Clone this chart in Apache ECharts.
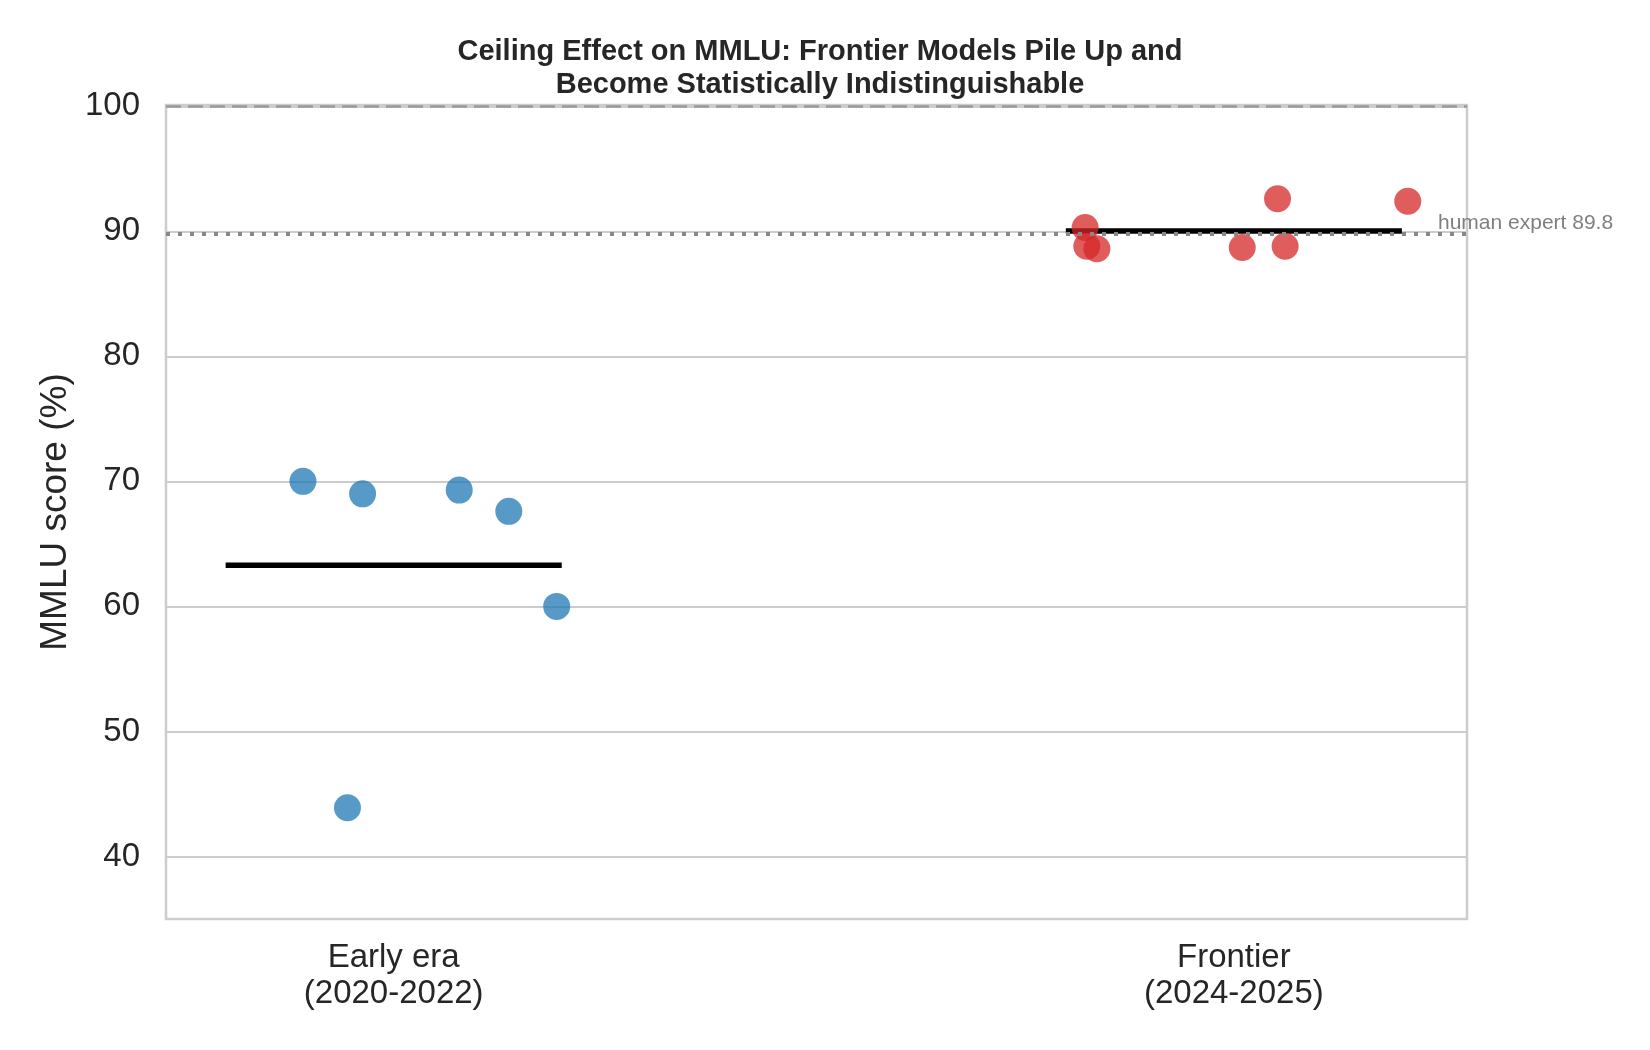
<!DOCTYPE html>
<html>
<head>
<meta charset="utf-8">
<script src="https://cdn.jsdelivr.net/npm/echarts@6/dist/echarts.min.js"></script>
<style>
  html, body { margin: 0; padding: 0; background: #fff; }
  #myChart { width: 1650px; height: 1050px; }
</style>
</head>
<body>
<div id="myChart"></div>
<script>
// 数据
const categories = ['Early era\n(2020-2022)', 'Frontier\n(2024-2025)']
const earlyScores = [70.0, 69.0, 69.3, 67.6, 60.0, 43.9]
const earlyJitter = [-0.108, -0.037, 0.078, 0.137, 0.194, -0.055]
const frontierScores = [90.3, 88.8, 88.6, 88.7, 92.6, 88.8, 92.4]
const frontierJitter = [-0.177, -0.175, -0.163, 0.010, 0.052, 0.061, 0.207]
const yTicks = [40, 50, 60, 70, 80, 90, 100]
const humanExpert = 89.8
const ceiling = 100

const FONT = "'Liberation Sans', Arial, sans-serif"
const halfWidth = 0.2

function mean(arr) {
  return arr.reduce((s, v) => s + v, 0) / arr.length
}
function points(pos, jitter, scores) {
  return scores.map((v, i) => [pos + jitter[i], v])
}
const earlyMean = mean(earlyScores)
const frontierMean = mean(frontierScores)

const myChart = echarts.init(document.getElementById('myChart'), null, { renderer: 'canvas' })
myChart.setOption({
  backgroundColor: '#fff',
  animation: false,
  title: {
    text: 'Ceiling Effect on MMLU: Frontier Models Pile Up and\nBecome Statistically Indistinguishable',
    left: 815,
    top: 30,
    textAlign: 'center',
    textStyle: {
      fontFamily: FONT,
      fontSize: 29,
      fontWeight: 'bold',
      color: '#262626',
      lineHeight: 33
    }
  },
  grid: {
    left: 166,
    right: 183,
    top: 105,
    bottom: 131,
    show: true,
    borderColor: '#cccccc',
    borderWidth: 2.5,
    backgroundColor: 'transparent'
  },
  xAxis: {
    type: 'value',
    min: -0.271,
    max: 1.2775,
    axisLine: { show: false },
    axisTick: { show: false, customValues: [0, 1] },
    splitLine: { show: false },
    axisLabel: {
      customValues: [0, 1],
      formatter: v => categories[Math.round(v)],
      fontFamily: FONT,
      fontSize: 33,
      lineHeight: 36,
      color: '#262626',
      margin: 21
    }
  },
  yAxis: {
    type: 'value',
    min: 35,
    max: 100.1,
    name: 'MMLU score (%)',
    nameLocation: 'middle',
    nameRotate: 90,
    nameGap: 91,
    nameTextStyle: { fontFamily: FONT, fontSize: 37, color: '#262626' },
    axisLine: { show: false },
    axisTick: { show: false, customValues: yTicks },
    splitLine: { show: true, lineStyle: { color: '#cccccc', width: 2 } },
    axisLabel: {
      customValues: yTicks,
      fontFamily: FONT,
      fontSize: 33,
      color: '#262626',
      margin: 26
    }
  },
  series: [
    {
      // 参考线
      type: 'line',
      data: [],
      z: 1,
      markLine: {
        silent: true,
        symbol: 'none',
        label: { show: false },
        data: [
          { yAxis: ceiling, lineStyle: { color: '#999999', width: 2.5, type: [15, 7] } },
          { yAxis: humanExpert, lineStyle: { color: '#888888', width: 4, type: [4, 8], cap: 'butt' } }
        ]
      }
    },
    {
      type: 'line',
      data: [[0 - halfWidth, earlyMean], [0 + halfWidth, earlyMean]],
      symbol: 'none',
      z: 2,
      lineStyle: { color: '#000', width: 5.5 }
    },
    {
      type: 'line',
      data: [[1 - halfWidth, frontierMean], [1 + halfWidth, frontierMean]],
      symbol: 'none',
      z: 2,
      lineStyle: { color: '#000', width: 5.5 }
    },
    {
      name: 'Early era',
      type: 'scatter',
      data: points(0, earlyJitter, earlyScores),
      symbolSize: 27,
      z: 3,
      itemStyle: { color: '#1f77b4', opacity: 0.75 }
    },
    {
      name: 'Frontier',
      type: 'scatter',
      data: points(1, frontierJitter, frontierScores),
      symbolSize: 27,
      z: 3,
      itemStyle: { color: '#d62728', opacity: 0.75 }
    },
    {
      // 注释文字
      type: 'scatter',
      data: [[1.243, humanExpert]],
      symbolSize: 0,
      silent: true,
      z: 4,
      label: {
        show: true,
        position: [0, 0],
        align: 'left',
        verticalAlign: 'bottom',
        formatter: 'human expert ' + humanExpert,
        fontFamily: FONT,
        fontSize: 21,
        color: '#5f5f5f'
      }
    }
  ]
})
window.addEventListener('resize', () => { myChart.resize() })
</script>
</body>
</html>
